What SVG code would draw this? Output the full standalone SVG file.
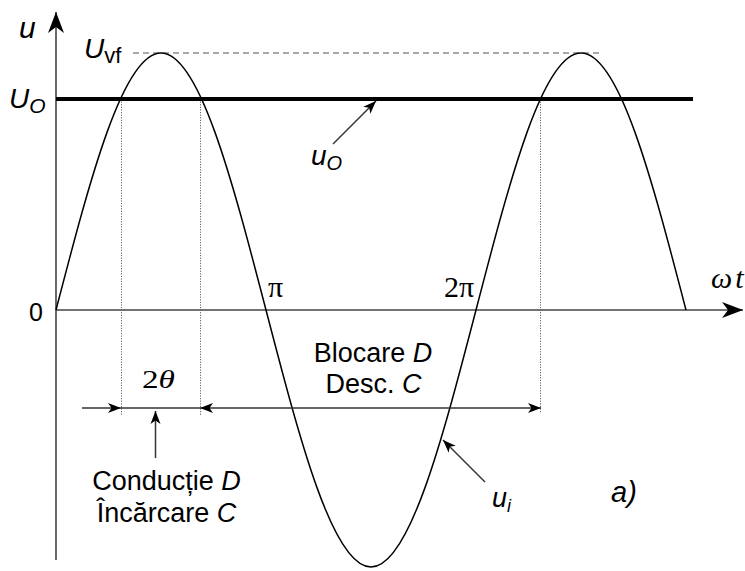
<svg xmlns="http://www.w3.org/2000/svg" width="745" height="571" viewBox="0 0 745 571">
<style>
.ax{stroke:#444;stroke-width:1.6;fill:none}
.ar{stroke:#333;stroke-width:1.5;fill:none}
.dot{stroke:#666;stroke-width:1;stroke-dasharray:1.2 1.4;fill:none}
.dash{stroke:#555;stroke-width:1.2;stroke-dasharray:6 4;fill:none}
.wave{stroke:#000;stroke-width:1.5;fill:none}
.lvl{stroke:#000;stroke-width:4;fill:none}
.s{font-family:"Liberation Sans",Arial,sans-serif;fill:#000}
.r{font-family:"Liberation Serif","Times New Roman",serif;fill:#000}
.i{font-style:italic}
</style>
<defs>
<marker id="ah" markerUnits="userSpaceOnUse" markerWidth="16" markerHeight="12" viewBox="-13 -6 14 12" refX="0" refY="0" orient="auto-start-reverse">
<path d="M-13,-5 L0,0 L-13,5 L-9.5,0 Z" fill="#000"/>
</marker>
<marker id="ahb" markerUnits="userSpaceOnUse" markerWidth="24" markerHeight="18" viewBox="-21 -9 22 18" refX="0" refY="0" orient="auto">
<path d="M-21,-8 L0,0 L-21,8 L-15,0 Z" fill="#000"/>
</marker>
</defs>
<g id="axes">
<line class="ax" x1="56" y1="560" x2="56" y2="12" marker-end="url(#ahb)"/>
<line class="ax" x1="56" y1="310" x2="743" y2="310" marker-end="url(#ahb)"/>
</g>
<g id="guides">
<line class="dash" x1="133" y1="53" x2="603" y2="53"/>
<line class="dot" x1="121.5" y1="99" x2="121.5" y2="415"/>
<line class="dot" x1="200.5" y1="99" x2="200.5" y2="415"/>
<line class="dot" x1="540.5" y1="99" x2="540.5" y2="413"/>
</g>
<g id="ui-wave">
<path class="wave" d="M56,310 C90.24,178.34 123,53 161,53 C199,53 231.76,178.34 266,310 C300.24,441.66 333,567 371,567 C409,567 441.76,441.66 476,310 C510.24,178.34 543,53 581,53 C619,53 651.76,178.34 686,310"/>
</g>
<g id="uo-level">
<line class="lvl" x1="56" y1="99" x2="693" y2="99"/>
</g>
<g id="connectors">
<line class="ar" x1="82" y1="408" x2="121" y2="408" marker-end="url(#ah)"/>
<line class="ar" x1="121" y1="408" x2="200" y2="408"/>
<line class="ar" x1="200" y1="408" x2="541" y2="408" marker-start="url(#ah)" marker-end="url(#ah)"/>
<line class="ar" x1="155.5" y1="458" x2="155.5" y2="411" marker-end="url(#ah)"/>
<line class="ar" x1="333" y1="144" x2="376" y2="101" marker-end="url(#ah)"/>
<line class="ar" x1="485" y1="482" x2="443" y2="440" marker-end="url(#ah)"/>
</g>
<g id="labels">
<text class="s i" x="19" y="38" font-size="30">u</text>
<text class="s" x="84" y="58" font-size="28"><tspan class="i">U</tspan><tspan font-size="22" dy="5">vf</tspan></text>
<text class="s i" x="9" y="108" font-size="28">U<tspan font-size="21" dy="5">O</tspan></text>
<text class="s" x="29" y="321" font-size="25">0</text>
<text class="r" x="268" y="297" font-size="30">π</text>
<text class="r" x="444" y="297" font-size="30">2π</text>
<text class="r i" x="711" y="288" font-size="30">ω<tspan dx="3">t</tspan></text>
<text class="s i" x="311" y="165" font-size="28">u<tspan font-size="20" dy="5">O</tspan></text>
<text class="r" x="142" y="388" font-size="26" textLength="33" lengthAdjust="spacingAndGlyphs">2<tspan class="i">θ</tspan></text>
<text class="s" x="373" y="362" font-size="27" text-anchor="middle">Blocare <tspan class="i">D</tspan></text>
<text class="s" x="373.5" y="393" font-size="27" text-anchor="middle">Desc. <tspan class="i">C</tspan></text>
<text class="s" x="166.5" y="490" font-size="27" text-anchor="middle">Conducție <tspan class="i">D</tspan></text>
<text class="s" x="166.5" y="522" font-size="27" text-anchor="middle">Încărcare <tspan class="i">C</tspan></text>
<text class="s i" x="492" y="507" font-size="27">u<tspan font-size="18" dy="5">i</tspan></text>
<text class="s i" x="611" y="502" font-size="29">a)</text>
</g>
</svg>
